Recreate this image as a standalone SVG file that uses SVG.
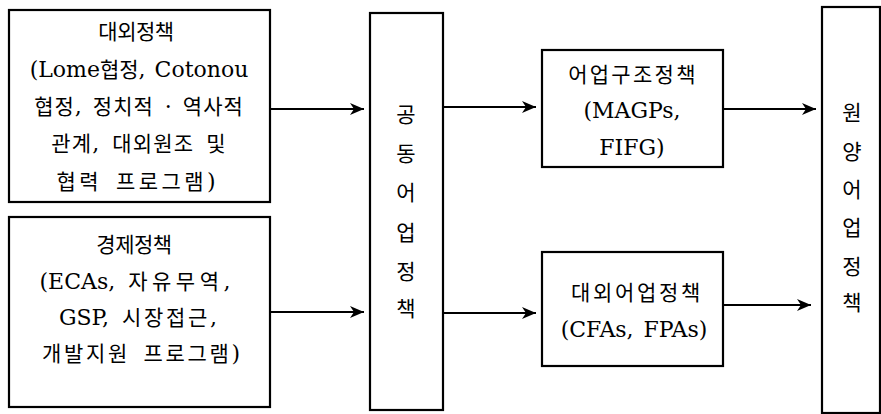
<svg xmlns="http://www.w3.org/2000/svg" width="881" height="414" viewBox="0 0 881 414">
<style>
.box{fill:#fff;stroke:#000;stroke-width:2.2}
.t{font-family:"Noto Sans CJK KR","DejaVu Serif",sans-serif;font-size:21px;fill:#000;text-anchor:middle;word-spacing:6px}
.l{font-family:"DejaVu Serif","Liberation Serif",serif;font-size:22px;letter-spacing:0}
.c{stroke:#000;stroke-width:2.2;fill:none;marker-end:url(#ah)}
</style>
<defs>
<marker id="ah" markerUnits="userSpaceOnUse" markerWidth="16" markerHeight="14" refX="14" refY="7" orient="auto">
<path d="M0,1 L14,7 L0,13 L4,7 z" fill="#000"/>
</marker>
</defs>
<g id="n-foreign">
<rect class="box" x="9" y="10" width="261" height="192"/>
<text class="t" x="136" y="39" style="letter-spacing:-0.5px">대외정책</text>
<text class="t" x="139" y="77" style="word-spacing:2px"><tspan class="l">(Lome</tspan>협정<tspan class="l">, Cotonou</tspan></text>
<text class="t" x="139" y="114" style="letter-spacing:1px;word-spacing:4px">협정<tspan class="l">, </tspan>정치적<tspan class="l"> · </tspan>역사적</text>
<text class="t" x="139" y="151" style="letter-spacing:1.2px">관계<tspan class="l">, </tspan>대외원조 및</text>
<text class="t" x="136" y="189" style="letter-spacing:3.4px">협력 프로그램<tspan class="l">)</tspan></text>
</g>
<g id="n-economic">
<rect class="box" x="9" y="217" width="261" height="190"/>
<text class="t" x="134" y="252" style="letter-spacing:-0.5px">경제정책</text>
<text class="t" x="135" y="289" style="letter-spacing:4.5px"><tspan class="l">(ECAs, </tspan>자유무역<tspan class="l">,</tspan></text>
<text class="t" x="138" y="325" style="letter-spacing:2.7px"><tspan class="l">GSP, </tspan>시장접근<tspan class="l">,</tspan></text>
<text class="t" x="141" y="361" style="letter-spacing:2.7px">개발지원 프로그램<tspan class="l">)</tspan></text>
</g>
<g id="n-common">
<rect class="box" x="370" y="13" width="73" height="397"/>
<text class="t" x="406" y="122">공</text>
<text class="t" x="406" y="161">동</text>
<text class="t" x="406" y="200">어</text>
<text class="t" x="406" y="240">업</text>
<text class="t" x="406" y="279">정</text>
<text class="t" x="406" y="316">책</text>
</g>
<g id="n-structure">
<rect class="box" x="542" y="50" width="181" height="117"/>
<text class="t" x="633" y="82" style="letter-spacing:2.3px">어업구조정책</text>
<text class="t" x="632" y="118"><tspan class="l">(MAGPs,</tspan></text>
<text class="t" x="632" y="155"><tspan class="l">FIFG)</tspan></text>
</g>
<g id="n-external">
<rect class="box" x="542" y="252" width="181" height="114"/>
<text class="t" x="637" y="300" style="letter-spacing:2.7px">대외어업정책</text>
<text class="t" x="634" y="337" style="word-spacing:3px"><tspan class="l">(CFAs, FPAs)</tspan></text>
</g>
<g id="n-distant">
<rect class="box" x="822" y="7" width="58" height="406"/>
<text class="t" x="852" y="120">원</text>
<text class="t" x="852" y="159">양</text>
<text class="t" x="852" y="197">어</text>
<text class="t" x="852" y="235">업</text>
<text class="t" x="852" y="274">정</text>
<text class="t" x="852" y="310">책</text>
</g>
<g id="connectors">
<line class="c" x1="271" y1="109" x2="364" y2="109"/>
<line class="c" x1="271" y1="312" x2="364" y2="312"/>
<line class="c" x1="444" y1="107" x2="536" y2="107"/>
<line class="c" x1="444" y1="313" x2="536" y2="313"/>
<line class="c" x1="724" y1="109" x2="816" y2="109"/>
<line class="c" x1="724" y1="305" x2="811" y2="305"/>
</g>
</svg>
